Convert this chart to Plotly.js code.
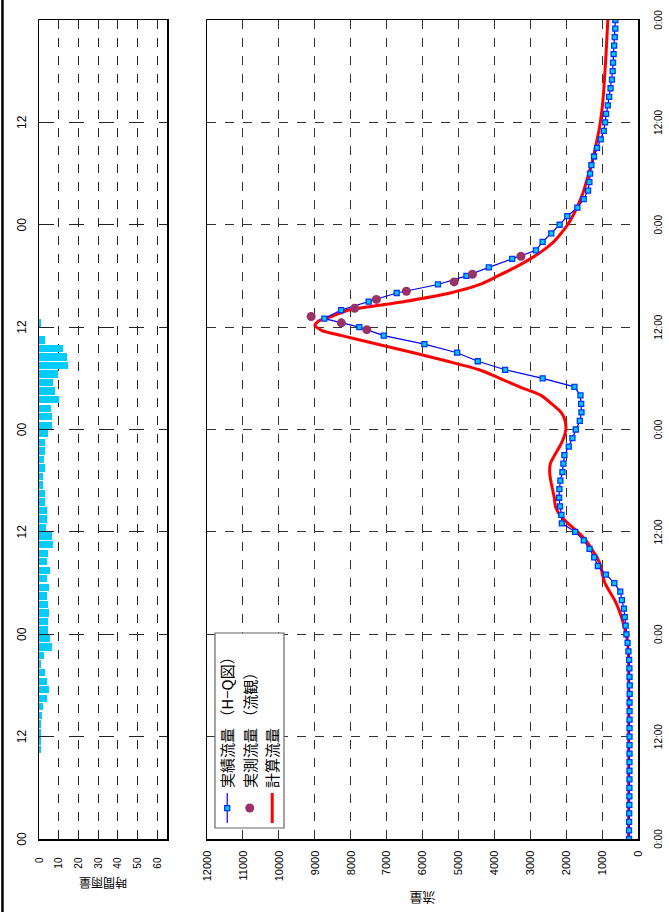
<!DOCTYPE html>
<html>
<head>
<meta charset="utf-8">
<script src="https://cdn.plot.ly/plotly-3.0.1.min.js"></script>
<style>
html,body{margin:0;padding:0;width:669px;height:919px;overflow:hidden;background:#fff;}
#wrap{position:absolute;left:0;top:0;width:919px;height:669px;transform-origin:0 0;transform:translate(0px,919px) rotate(-90deg);}
</style>
</head>
<body>
<div id="wrap"></div>
<script>
// ---- data (time in hours from start) ----
const hours = [0,1,2,3,4,5,6,7,8,9,10,11,12,13,14,15,16,17,18,19,20,21,22,23,24,25,26,27,28,29,30,31,32,33,34,35,36,37,38,39,40,41,42,43,44,45,46,47,48,49,50,51,52,53,54,55,56,57,58,59,60,61,62,63,64,65,66,67,68,69,70,71,72,73,74,75,76,77,78,79,80,81,82,83,84,85,86,87,88,89,90,91,92,93,94,95,96];
const hqFlow = [250,250,248,245,242,240,240,238,238,238,236,236,236,236,235,235,235,232,230,236,240,248,266,290,323,345,370,392,450,494,661,894,1117,1220,1350,1509,1750,2120,2133,2170,2198,2189,2161,2105,2077,2049,1928,1826,1732,1620,1574,1583,1602,1770,2655,3700,4462,5036,5947,7080,7758,8733,8267,7499,6718,5570,4777,4154,3503,2842,2656,2414,2182,1968,1689,1512,1391,1354,1335,1298,1224,1140,1038,954,917,889,842,803,765,725,706,695,680,664,648,632,630];

const calcHours = [0,10,20,21,22,23,24,25,26,27,28,29,30,31,32,33,34,35,36,37,38,39,40,41,42,43,44,45,46,47,48,49,50,51,52,53,54,55,56,57,58,59,59.6,60.2,60.7,61.3,62,63,64,65,66,67,68,69,70,71,72,73,74,75,76,77,78,79,80,81,82,83,84,86,88,90,92,94,96];
const calcFlow = [260,258,258,262,270,290,325,390,460,545,650,790,920,990,1040,1140,1290,1450,1680,1950,2180,2300,2330,2380,2430,2460,2440,2320,2180,2070,2010,2030,2140,2400,2700,3300,3850,4420,5300,6250,7250,8250,8800,9000,8900,8500,8050,6500,5230,4400,3900,3420,3000,2640,2350,2140,1960,1820,1700,1600,1510,1440,1370,1300,1240,1190,1140,1090,1050,990,950,920,890,865,840];

const obsHours = [59.7,60.5,61.25,62.2,63.25,64.2,65.3,66.2,68.3];
const obsFlow = [7550,8260,9100,7890,7285,6450,5120,4610,3260];

const rainHours = [10,11,12,13,14,15,16,17,18,19,20,21,22,23,24,25,26,27,28,29,30,31,32,33,34,35,36,37,38,39,40,41,42,43,44,45,46,47,48,49,50,51,52,53,54,55,56,57,58,59,60];
const rainMm = [0.8,0.8,1.0,1.0,1.5,2.0,4.1,5.1,4.1,3.1,0.8,2.5,6.6,5.6,4.6,4.6,5.1,4.6,4.1,5.1,4.1,5.6,4.1,4.6,7.1,6.6,3.6,4.1,4.1,3.1,3.1,2.0,2.0,3.1,2.5,3.1,3.1,4.4,6.6,6.6,6.1,10.2,8.1,7.1,9.7,14.7,14.1,12.2,2.9,0,0.8];

const flowTickVals = [0,12,24,36,48,60,72,84,96];
const flowTickText = ['0:00','12:00','0:00','12:00','0:00','12:00','0:00','12:00','0:00'];
const rainTickVals = [0,12,24,36,48,60,72,84];
const rainTickText = ['00','12','00','12','00','12','00','12'];

const seriesNames = ['実績流量 （H−Q図）','実測流量 （流観）','計算流量'];

// ---- traces ----
const traces = [
  {type:'bar', x:rainHours, y:rainMm, xaxis:'x2', yaxis:'y2', width:0.86, offset:0.07,
   marker:{color:'#00CCFF', line:{width:0}}, showlegend:false, hoverinfo:'skip'},
  {type:'scatter', mode:'lines', name:seriesNames[2], x:calcHours, y:calcFlow, legendrank:3,
   line:{color:'#FF0000', width:3, shape:'spline', smoothing:0.6}},
  {type:'scatter', mode:'lines+markers', name:seriesNames[0], x:hours, y:hqFlow, legendrank:1,
   line:{color:'#0000FF', width:1.2},
   marker:{symbol:'square', size:5, color:'#00CCFF', line:{color:'#0033FF', width:1.3}}},
  {type:'scatter', mode:'markers', name:seriesNames[1], x:obsHours, y:obsFlow, legendrank:2,
   marker:{symbol:'circle', size:9, color:'#993366'}}
];

const tickFont = {family:'Liberation Sans, Arial, sans-serif', size:11, color:'#000'};
const cjk = 'Noto Sans CJK JP, sans-serif';

const layout = {
  width:919, height:669,
  margin:{l:80, r:20, t:39, b:31, pad:0},
  paper_bgcolor:'#fff', plot_bgcolor:'#fff',
  showlegend:true,
  bargap:0,
  xaxis:{domain:[0,1], range:[0,96], anchor:'y', tickmode:'array', tickvals:flowTickVals, ticktext:flowTickText,
    tickfont:{family:'Liberation Sans, Arial, sans-serif', size:10, color:'#000'}, ticks:'', ticklabelstandoff:10,
    showgrid:true, gridcolor:'#333', griddash:'dash', gridwidth:1,
    showline:true, linecolor:'#000', linewidth:1.5, mirror:true, zeroline:false},
  yaxis:{domain:[0,0.7195], range:[0,12000], tickmode:'linear', tick0:0, dtick:1000, anchor:'x', tickformat:'d',
    tickfont:tickFont, ticks:'', ticklabelstandoff:8,
    showgrid:true, gridcolor:'#333', griddash:'dash', gridwidth:1,
    showline:true, linecolor:'#000', linewidth:1.5, mirror:true, zeroline:false,
    title:{text:'流量', font:{family:cjk, size:13, color:'#000'}, standoff:8}},
  xaxis2:{domain:[0,1], range:[0,96], anchor:'y2', side:'top', tickmode:'array', tickvals:rainTickVals, ticktext:rainTickText,
    tickfont:{family:'Liberation Sans, Arial, sans-serif', size:12, color:'#000'}, ticks:'', ticklabelstandoff:7,
    showgrid:true, gridcolor:'#222', griddash:'longdash', gridwidth:1,
    showline:true, linecolor:'#000', linewidth:1.5, mirror:true, zeroline:false},
  yaxis2:{domain:[0.7863,1], range:[65,0], tickmode:'linear', tick0:0, dtick:10, anchor:'x2',
    tickfont:{family:'Liberation Sans, Arial, sans-serif', size:10, color:'#000'}, ticks:'', ticklabelstandoff:15,
    showgrid:true, gridcolor:'#222', griddash:'dash', gridwidth:1,
    showline:true, linecolor:'#000', linewidth:1.5, mirror:true, zeroline:false,
    title:{text:'時間雨量', font:{family:cjk, size:12, color:'#000'}, standoff:6}},
  legend:{x:0.0134, y:0.7129, xanchor:'left', yanchor:'top', bgcolor:'rgba(0,0,0,0)', borderwidth:0,
    font:{family:cjk, size:15, color:'#000'}, tracegroupgap:0, itemwidth:30},
  shapes:[
    {type:'rect', xref:'paper', yref:'paper', x0:0.01343, x1:0.2515, y0:0.591, y1:0.7062, layer:'above',
     fillcolor:'#fff', line:{color:'#666', width:1.2}},
    {type:'line', xref:'paper', yref:'paper', x0:-0.089, x1:1.03, y0:1.061, y1:1.061, line:{color:'#000', width:2.5}}
  ]
};

Plotly.newPlot('wrap', traces, layout, {staticPlot:true, displayModeBar:false});
</script>
</body>
</html>
